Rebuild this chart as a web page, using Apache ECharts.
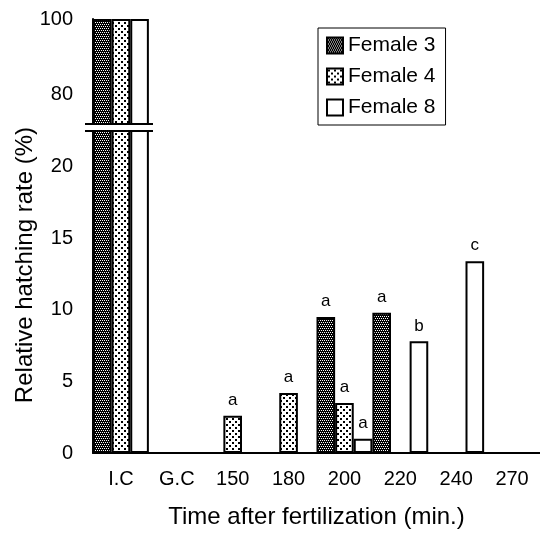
<!DOCTYPE html>
<html>
<head>
<meta charset="utf-8">
<script src="https://cdn.jsdelivr.net/npm/echarts@6/dist/echarts.min.js"></script>
<style>
  html, body { margin: 0; padding: 0; background: #fff; }
  #chart { width: 540px; height: 537px; }
</style>
</head>
<body>
<div id="chart"></div>
<script>
const categories = ["I.C", "G.C", "150", "180", "200", "220", "240", "270"];
const female3 = [100, 0, 0, 0, 9.5, 9.8, 0, 0];
const female4 = [100, 0, 2.6, 4.2, 3.5, 0, 0, 0];
const female8 = [100, 0, 0, 0, 1.0, 7.8, 13.4, 0];
const letters3 = ["", "", "", "", "a", "a", "", ""];
const letters4 = ["", "", "a", "a", "a", "", "", ""];
const letters8 = ["", "", "", "", "a", "b", "c", ""];
const lowerTicks = [0, 5, 10, 15, 20];
const upperTicks = [80, 100];

const FONT = "Liberation Sans";
const upperMin = 72, upperMax = 100;
const lowerMax = 22.5;

// fill patterns like the printed figure
function checker() {
  const c = document.createElement("canvas");
  c.width = 4; c.height = 4;
  const g = c.getContext("2d");
  g.fillStyle = "#000";
  g.fillRect(0, 0, 4, 4);
  g.fillStyle = "#fff";
  [[0, 0], [2, 0], [1, 2], [3, 2]].forEach(p => g.fillRect(p[0], p[1], 1, 1));
  return c;
}
function dots() {
  const c = document.createElement("canvas");
  c.width = 6; c.height = 6;
  const g = c.getContext("2d");
  g.fillStyle = "#fff";
  g.fillRect(0, 0, 6, 6);
  g.fillStyle = "#000";
  g.fillRect(1, 1, 2, 2);
  g.fillRect(4, 4, 2, 2);
  return c;
}

const seriesDefs = [
  { name: "Female 3", values: female3, letters: letters3, fill: { image: checker(), repeat: "repeat" } },
  { name: "Female 4", values: female4, letters: letters4, fill: { image: dots(), repeat: "repeat" } },
  { name: "Female 8", values: female8, letters: letters8, fill: "#fff" }
];

let chart = echarts.init(document.getElementById("chart"), null, { renderer: "canvas" });

let series = [];
seriesDefs.forEach(s => {
  // lower part 0 - 22.5
  series.push({
    name: s.name,
    type: "bar",
    xAxisIndex: 0,
    yAxisIndex: 0,
    barGap: "0%",
    barCategoryGap: "0%",
    data: s.values,
    itemStyle: { color: s.fill, borderColor: "#000", borderWidth: 2 },
    label: {
      show: true,
      position: "top",
      distance: 7,
      fontFamily: FONT,
      fontSize: 17,
      color: "#000",
      formatter: p => s.letters[p.dataIndex]
    },
    animation: false
  });
  // upper part above the break
  series.push({
    name: s.name,
    type: "bar",
    xAxisIndex: 1,
    yAxisIndex: 1,
    barGap: "0%",
    barCategoryGap: "0%",
    data: s.values.map(v => (v > upperMin ? v : null)),
    itemStyle: { color: s.fill, borderColor: "#000", borderWidth: 2 },
    animation: false
  });
});

let option = {
  backgroundColor: "#fff",
  grid: [
    { left: 93, top: 131, width: 452, height: 322 },
    { left: 93, top: 19, width: 452, height: 105 }
  ],
  legend: {
    orient: "vertical",
    left: 318,
    top: 28,
    padding: [7, 10, 7, 8],
    itemGap: 10,
    itemWidth: 16,
    itemHeight: 16,
    icon: "rect",
    borderColor: "#000",
    borderWidth: 1,
    borderRadius: 0,
    data: seriesDefs.map(s => s.name),
    itemStyle: { borderColor: "#000", borderWidth: 2 },
    textStyle: { fontFamily: FONT, fontSize: 21, color: "#000" }
  },
  xAxis: [
    {
      type: "category",
      gridIndex: 0,
      data: categories,
      axisLine: { lineStyle: { color: "#000", width: 2 } },
      axisTick: { inside: true, length: 6, lineStyle: { color: "#000", width: 1.5 } },
      axisLabel: { margin: 16, fontFamily: FONT, fontSize: 20, color: "#000" },
      name: "Time after fertilization (min.)",
      nameLocation: "middle",
      nameGap: 52,
      nameTextStyle: { fontFamily: FONT, fontSize: 24, color: "#000" }
    },
    {
      type: "category",
      gridIndex: 1,
      data: categories,
      show: false
    }
  ],
  yAxis: [
    {
      type: "value",
      gridIndex: 0,
      min: 0,
      max: lowerMax,
      splitLine: { show: false },
      axisLine: { show: true, lineStyle: { color: "#000", width: 2 } },
      axisTick: { show: true, inside: true, length: 5, customValues: lowerTicks, lineStyle: { color: "#000" } },
      axisLabel: { margin: 20, fontFamily: FONT, fontSize: 20, color: "#000", customValues: lowerTicks }
    },
    {
      type: "value",
      gridIndex: 1,
      min: upperMin,
      max: upperMax,
      splitLine: { show: false },
      axisLine: { show: true, lineStyle: { color: "#000", width: 2 } },
      axisTick: { show: true, inside: true, length: 5, customValues: upperTicks, lineStyle: { color: "#000" } },
      axisLabel: { margin: 20, fontFamily: FONT, fontSize: 20, color: "#000", customValues: upperTicks }
    }
  ],
  graphic: [
    {
      type: "text",
      left: 13,
      top: 127,
      rotation: Math.PI / 2,
      style: {
        text: "Relative hatching rate (%)",
        fontFamily: FONT,
        fontSize: 24,
        fill: "#000"
      }
    },
    { type: "line", shape: { x1: 85, y1: 124, x2: 153, y2: 124 }, style: { stroke: "#000", lineWidth: 2 }, z: 100 },
    { type: "line", shape: { x1: 85, y1: 131, x2: 153, y2: 131 }, style: { stroke: "#000", lineWidth: 2 }, z: 100 }
  ],
  series: series
};

chart.setOption(option);
</script>
</body>
</html>
